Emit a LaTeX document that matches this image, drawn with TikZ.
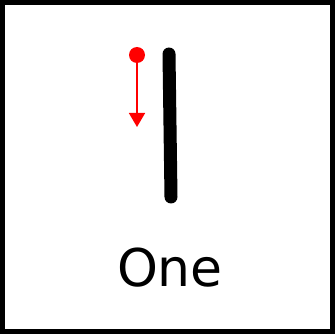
\documentclass[tikz,border=0pt]{standalone}
\usepackage{fontspec}
\setmainfont{DejaVu Sans}
\usetikzlibrary{arrows.meta, positioning}
\definecolor{strokered}{HTML}{FF0000}

\begin{document}
\begin{tikzpicture}[
  x=1pt, y=-1pt,
  frame/.style  = {draw=black, line width=5pt},
  stroke/.style = {draw=black, line width=13pt, line cap=round},
  startdot/.style = {circle, fill=strokered, inner sep=0pt, minimum size=16pt},
  guide/.style  = {-{Triangle[width=16pt, length=14pt]}, draw=strokered, line width=1.6pt},
  word/.style   = {font=\fontsize{52}{60}\selectfont, anchor=base},
]
  \useasboundingbox (0,0) rectangle (335,334);
  \draw[frame] (2.5,2.5) rectangle (332.5,331.5);

  % the stroke of the figure
  \coordinate (top)    at (169,54);
  \coordinate (bottom) at (171,197);
  \draw[stroke] (top) -- (bottom);

  % where to start and which way
  \node[startdot] (start) at (137,55) {};
  \coordinate (tip) at (137,127);
  \draw[guide] (start.center) -- (tip);

  \node[word] (label) at (170,286) {One};
\end{tikzpicture}
\end{document}
